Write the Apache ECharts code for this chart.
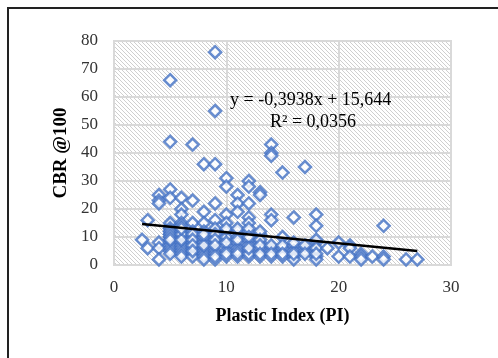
<!DOCTYPE html>
<html>
<head>
<meta charset="utf-8">
<script src="https://cdn.jsdelivr.net/npm/echarts@6/dist/echarts.min.js"></script>
<style>
  html, body { margin: 0; padding: 0; background: #fff; }
  #chart { width: 498px; height: 358px; }
</style>
</head>
<body>
<div id="chart"></div>
<script>
// Plastic Index (PI) vs CBR @100
var piValues = [
  2.5,
  3, 3,
  4, 4, 4, 4, 4, 4,
  5, 5, 5, 5, 5, 5, 5, 5, 5, 5, 5, 5, 5, 5, 5, 5, 5, 5, 5, 5, 5,
  6, 6, 6, 6, 6, 6, 6, 6, 6, 6, 6, 6, 6, 6, 6, 6,
  7, 7, 7, 7, 7, 7, 7, 7, 7, 7, 7, 7, 7,
  8, 8, 8, 8, 8, 8, 8, 8, 8, 8, 8, 8, 8, 8,
  9, 9, 9, 9, 9, 9, 9, 9, 9, 9, 9, 9, 9, 9, 9, 9,
  10, 10, 10, 10, 10, 10, 10, 10, 10, 10, 10, 10, 10,
  11, 11, 11, 11, 11, 11, 11, 11, 11, 11, 11, 11,
  12, 12, 12, 12, 12, 12, 12, 12, 12, 12, 12, 12, 12, 12,
  13, 13, 13, 13, 13, 13, 13, 13, 13, 13,
  14, 14, 14, 14, 14, 14, 14, 14, 14, 14,
  15, 15, 15, 15, 15, 15,
  16, 16, 16, 16, 16, 16, 16,
  17, 17, 17, 17, 17,
  18, 18, 18, 18, 18, 18, 18, 18,
  19,
  20, 20,
  21, 21, 21,
  22, 22, 22,
  23,
  24, 24, 24,
  26,
  27
];
var cbrValues = [
  9,
  16, 6,
  25, 23, 22, 8, 6, 2,
  66, 44, 27, 24, 14, 12, 11, 10, 9, 8, 7, 6, 5, 4, 13, 15, 13, 12, 11, 10, 9,
  24, 20, 18, 15, 12, 10, 8, 7, 6, 5, 4, 3, 14, 11, 9, 13,
  43, 23, 15, 12, 10, 8, 6, 4, 3, 11, 9, 7, 5,
  36, 19, 15, 12, 9, 8, 6, 5, 4, 3, 2, 10, 7, 11,
  76, 55, 36, 22, 16, 12, 10, 8, 5, 4, 2, 13, 11, 9, 7, 3,
  31, 28, 18, 15, 12, 9, 7, 5, 3, 10, 8, 13, 4,
  25, 22, 19, 12, 10, 8, 6, 3, 13, 9, 5, 4,
  30, 28, 22, 17, 15, 12, 9, 7, 5, 3, 4, 13, 10, 6,
  26, 25, 11, 8, 6, 3, 12, 9, 7, 4,
  43, 40, 39, 18, 16, 6, 5, 3, 7, 4,
  33, 10, 6, 3, 7, 4,
  17, 7, 5, 3, 2, 8, 4,
  35, 6, 5, 7, 4,
  18, 14, 8, 3, 2, 9, 6, 4,
  6,
  8, 3,
  7, 6, 3,
  4, 3, 2,
  3,
  14, 3, 2,
  2,
  2
];

// linear trendline shown on the chart
var trendSlope = -0.3938;
var trendIntercept = 15.644;
var trendX = [2.5, 27];

var xTicks = [0, 10, 20, 30];
var yTicks = [0, 10, 20, 30, 40, 50, 60, 70, 80];

var points = [];
for (var i = 0; i < piValues.length; i++) {
  points.push([piValues[i], cbrValues[i]]);
}
var trend = trendX.map(function (x) {
  return [x, trendSlope * x + trendIntercept];
});

// hatched plot area
var hatch = document.createElement('canvas');
hatch.width = 4;
hatch.height = 4;
var hc = hatch.getContext('2d');
hc.fillStyle = '#ffffff';
hc.fillRect(0, 0, 4, 4);
hc.strokeStyle = '#cfcfcf';
hc.lineWidth = 1;
hc.beginPath();
hc.moveTo(-1, -1); hc.lineTo(5, 5);
hc.moveTo(-1, 3); hc.lineTo(1, 5);
hc.moveTo(3, -1); hc.lineTo(5, 1);
hc.stroke();

var serif = '"Liberation Serif", "Times New Roman", serif';
var myChart = echarts.init(document.getElementById('chart'));

var option = {
  backgroundColor: '#ffffff',
  animation: false,
  grid: {
    left: 114, right: 47, top: 41, bottom: 93,
    show: true,
    backgroundColor: { image: hatch, repeat: 'repeat' },
    borderColor: '#d9d9d9',
    borderWidth: 2
  },
  xAxis: {
    type: 'value',
    min: xTicks[0], max: xTicks[xTicks.length - 1], interval: 10,
    name: 'Plastic Index (PI)',
    nameLocation: 'middle',
    nameGap: 42,
    nameTextStyle: { fontFamily: serif, fontWeight: 'bold', fontSize: 18, color: '#000' },
    axisLine: { show: false },
    axisTick: { show: false },
    axisLabel: { fontFamily: serif, fontSize: 17, color: '#333', margin: 14 },
    splitLine: { show: true, lineStyle: { color: '#d9d9d9', width: 2 } }
  },
  yAxis: {
    type: 'value',
    min: yTicks[0], max: yTicks[yTicks.length - 1], interval: 10,
    name: 'CBR @100',
    nameLocation: 'middle',
    nameGap: 43,
    nameTextStyle: { fontFamily: serif, fontWeight: 'bold', fontSize: 19, color: '#000' },
    axisLine: { show: false },
    axisTick: { show: false },
    axisLabel: { fontFamily: serif, fontSize: 17, color: '#333', margin: 16 },
    splitLine: { show: true, lineStyle: { color: '#d9d9d9', width: 2 } }
  },
  series: [
    {
      name: 'CBR',
      type: 'scatter',
      data: points,
      symbol: 'diamond',
      symbolSize: 12,
      itemStyle: { color: '#ffffff', borderColor: '#4472C4', borderWidth: 2.5 }
    },
    {
      name: 'Trend',
      type: 'line',
      data: trend,
      symbol: 'none',
      lineStyle: { color: '#000000', width: 2.5 },
      z: 5
    }
  ],
  graphic: [
    {
      type: 'rect',
      shape: { x: 8, y: 8, width: 560, height: 420 },
      style: { fill: 'none', stroke: '#222', lineWidth: 2 },
      silent: true
    },
    {
      type: 'text', left: 230, top: 91, z: 10,
      style: { text: 'y = -0,3938x + 15,644', font: '18px ' + serif, fill: '#000' }
    },
    {
      type: 'text', left: 270, top: 113, z: 10,
      style: { text: 'R² = 0,0356', font: '18px ' + serif, fill: '#000' }
    }
  ]
};

myChart.setOption(option);
</script>
</body>
</html>
